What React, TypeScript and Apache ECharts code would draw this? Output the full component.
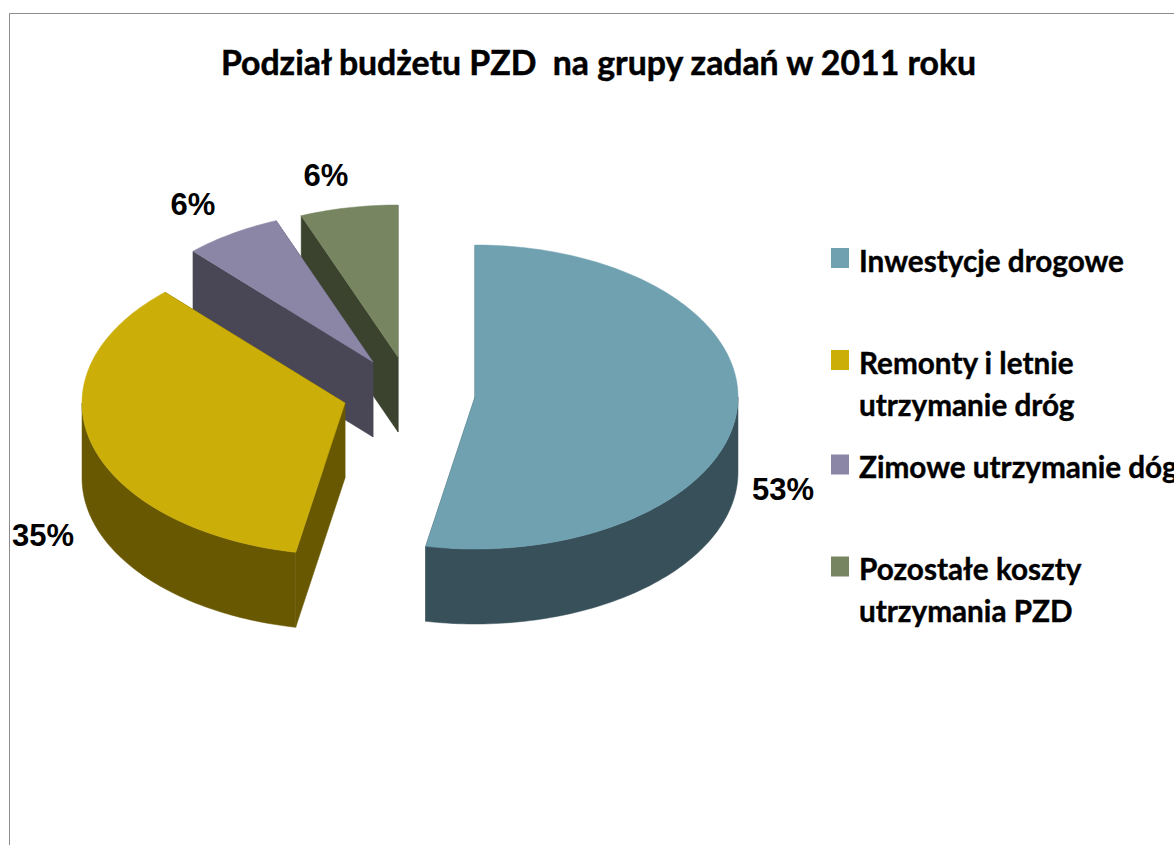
import React, { useEffect, useRef } from "react";
import * as echarts from "echarts";

const titleText = "Podział budżetu PZD  na grupy zadań w 2011 roku";
const categories = ["Inwestycje drogowe", "Remonty i letnie\nutrzymanie dróg", "Zimowe utrzymanie dóg", "Pozostałe koszty\nutrzymania PZD"];
const shares = [53, 35, 6, 6];
const topColors = ["#6fa1b1", "#ccae09", "#8b86a5", "#778660"];
const wallColors = ["#38505a", "#695802", "#494655", "#3b432e"];
const explode = [[0, 0], [-130, 6], [-102, -35], [-77, -40]];
const labelOffset = [[308, 92], [-432, 138], [-282, -193], [-149, -222]];
const legendY = [258, 360, 464.5, 566.5];
const legendTextY = [260, 362, 466, 568];

const CX = 475, CY = 397, RX = 263, RY = 152, DEPTH = 75;
const TOTAL = shares.reduce((a, b) => a + b, 0);
const pt = (cx: number, cy: number, t: number): number[] => [cx + RX * Math.sin(t), cy - RY * Math.cos(t)];

function arc(cx: number, cy: number, a: number, b: number): number[][] {
  const out: number[][] = [];
  const n = Math.max(2, Math.ceil((b - a) / 0.02));
  for (let i = 0; i <= n; i++) out.push(pt(cx, cy, a + ((b - a) * i) / n));
  return out;
}

function renderSlice(params: any, api: any) {
  const value = api.value(0);
  const i = api.value(1);
  const before = shares.slice(0, i).reduce((a, b) => a + b, 0);
  const a = (before / TOTAL) * Math.PI * 2;
  const b = ((before + value) / TOTAL) * Math.PI * 2;
  const cx = CX + explode[i][0];
  const cy = CY + explode[i][1];
  const children: any[] = [];
  const wall = wallColors[i];
  const poly = (points: number[][], fill: string) => ({ type: "polygon", shape: { points }, style: { fill, stroke: fill, lineWidth: 0.5 } });
  for (const e of [a, b]) {
    const p = pt(cx, cy, e);
    children.push(poly([[cx, cy], p, [p[0], p[1] + DEPTH], [cx, cy + DEPTH]], wall));
  }
  const lo = Math.max(a, Math.PI / 2);
  const hi = Math.min(b, (Math.PI * 3) / 2);
  if (hi > lo) {
    const top = arc(cx, cy, lo, hi);
    const bottom = top.map((p) => [p[0], p[1] + DEPTH]).reverse();
    children.push(poly(top.concat(bottom), wall));
  }
  children.push(poly([[cx, cy], ...arc(cx, cy, a, b)], topColors[i]));
  children.push({
    type: "text",
    style: {
      x: CX + labelOffset[i][0], y: CY + labelOffset[i][1], text: value + "%", fill: "#000",
      font: 'bold 31px "Liberation Sans"', align: "center", verticalAlign: "middle",
    },
  });
  return { type: "group", children };
}

export default function App() {
  const ref = useRef<HTMLDivElement>(null);
  useEffect(() => {
    const chart = echarts.init(ref.current!, null, { renderer: "svg" });
    const order = [3, 2, 1, 0];
    const graphic: any[] = [
      { type: "line", shape: { x1: 9.5, y1: 13.5, x2: 9.5, y2: 845 }, style: { stroke: "#8c8c8c", lineWidth: 1 } },
      { type: "line", shape: { x1: 9.5, y1: 13.5, x2: 1174, y2: 13.5 }, style: { stroke: "#8c8c8c", lineWidth: 1 } },
    ];
    categories.forEach((c, i) => {
      graphic.push({ type: "rect", shape: { x: 831, y: legendY[i] - 10, width: 18, height: 20 }, style: { fill: topColors[i] } });
      graphic.push({
        type: "text", x: 859, y: legendTextY[i] - 21,
        style: { text: c, fill: "#000", font: 'bold 29.7px Lato', lineHeight: 42, align: "left", verticalAlign: "top", stroke: "#000", lineWidth: 0.4 },
      });
    });
    chart.setOption({
      animation: false,
      title: {
        text: titleText, left: 593.5, top: 40, textAlign: "center",
        textStyle: { fontFamily: "Lato", fontWeight: "bold", fontSize: 33.8, color: "#000", textBorderColor: "#000", textBorderWidth: 0.5 },
      },
      graphic,
      series: order.map((i) => ({
        type: "custom", name: categories[i], coordinateSystem: "none", silent: true,
        renderItem: renderSlice, data: [[shares[i], i]], z: 10 - i,
      })),
    });
    return () => chart.dispose();
  }, []);
  return <div ref={ref} style={{ position: "fixed", left: 0, top: 0, width: 1174, height: 845, background: "#fff" }} />;
}
